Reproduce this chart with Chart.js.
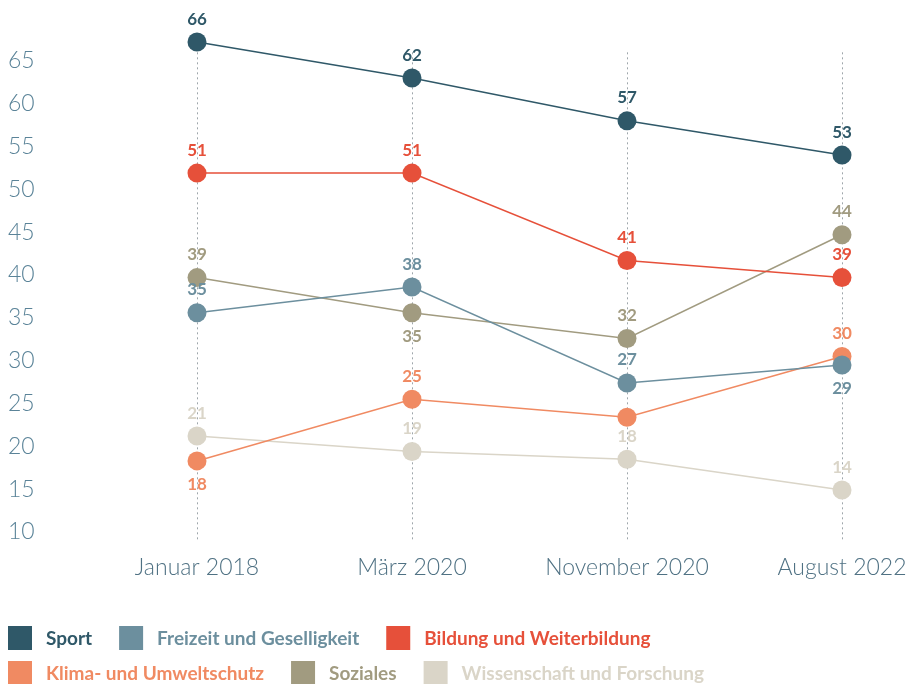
<!DOCTYPE html>
<html>
<head>
<meta charset="utf-8">
<script src="https://cdn.jsdelivr.net/npm/chart.js@4.4.1/dist/chart.umd.min.js"></script>
<style>
html,body{margin:0;padding:0;background:#ffffff;}
#wrap{width:910px;height:684px;position:relative;}
</style>
</head>
<body>
<div id="wrap"><canvas id="c" width="910" height="684"></canvas></div>
<script>
// ---- data ----
const categories = ['Januar 2018', 'März 2020', 'November 2020', 'August 2022'];
const seriesNames = ['Sport', 'Freizeit und Geselligkeit', 'Bildung und Weiterbildung', 'Klima- und Umweltschutz', 'Soziales', 'Wissenschaft und Forschung'];

// plotted positions
const sport        = [67.2, 63.0, 58.0, 54.0];
const freizeit     = [35.6, 38.6, 27.4, 29.5];
const bildung      = [51.9, 51.9, 41.7, 39.7];
const klima        = [18.3, 25.5, 23.4, 30.5];
const soziales     = [39.7, 35.6, 32.6, 44.7];
const wissenschaft = [21.2, 19.4, 18.5, 14.9];

// printed value labels
const sportLabels        = ['66', '62', '57', '53'];
const freizeitLabels     = ['35', '38', '27', '29'];
const bildungLabels      = ['51', '51', '41', '39'];
const klimaLabels        = ['18', '25', null, '30'];
const sozialesLabels     = ['39', '35', '32', '44'];
const wissenschaftLabels = ['21', '19', '18', '14'];

const yTicks = [10, 15, 20, 25, 30, 35, 40, 45, 50, 55, 60, 65];
const guideTop = 66; // vertical dotted guides start here

// ---- styling ----
const colors = ['#2f5868', '#6c8f9e', '#e6503a', '#f08a62', '#a19b80', '#dad5c8'];
const FONT = 'Lato, "Open Sans", sans-serif';

const seriesValues = [sport, freizeit, bildung, klima, soziales, wissenschaft];
const seriesLabels = [sportLabels, freizeitLabels, bildungLabels, klimaLabels, sozialesLabels, wissenschaftLabels];

// label placement (below point) – presentation only
const belowKeys = new Set(['1:3', '3:0', '4:1']);

const guidePlugin = {
  id: 'guides',
  beforeDatasetsDraw(chart) {
    const ctx = chart.ctx, xs = chart.scales.x, ys = chart.scales.y;
    const top = ys.getPixelForValue(guideTop);
    const bottom = chart.chartArea.bottom + 8;
    ctx.save();
    ctx.strokeStyle = '#9ea6ab';
    ctx.lineWidth = 1;
    ctx.setLineDash([2, 3]);
    categories.forEach((c, i) => {
      const x = Math.round(xs.getPixelForValue(i)) + 0.5;
      ctx.beginPath();
      ctx.moveTo(x, top);
      ctx.lineTo(x, bottom);
      ctx.stroke();
    });
    ctx.restore();
  }
};

const valueLabelPlugin = {
  id: 'valueLabels',
  afterDatasetsDraw(chart) {
    const ctx = chart.ctx;
    ctx.save();
    ctx.font = 'bold 17px ' + FONT;
    ctx.textAlign = 'center';
    ctx.textBaseline = 'middle';
    chart.data.datasets.forEach((ds, di) => {
      const meta = chart.getDatasetMeta(di);
      meta.data.forEach((pt, i) => {
        const txt = ds.valueLabels[i];
        if (txt == null) return;
        const below = belowKeys.has(di + ':' + i);
        ctx.fillStyle = ds.borderColor;
        ctx.fillText(txt, pt.x, pt.y + (below ? 24 : -23));
      });
    });
    ctx.restore();
  }
};

const legendPlugin = {
  id: 'customLegend',
  afterDraw(chart) {
    const ctx = chart.ctx;
    ctx.save();
    ctx.font = 'bold 19px ' + FONT;
    ctx.textBaseline = 'middle';
    ctx.textAlign = 'left';
    const box = 24, gapText = 14, gapItem = 27, startX = 8, maxX = chart.width;
    let x = startX, y = 638;
    chart.data.datasets.forEach((ds) => {
      const w = box + gapText + ctx.measureText(ds.label).width;
      if (x + w > maxX && x > startX) { x = startX; y += 35; }
      ctx.fillStyle = ds.borderColor;
      ctx.fillRect(x, y - box / 2, box, box);
      ctx.fillText(ds.label, x + box + gapText, y + 1);
      x += w + gapItem;
    });
    ctx.restore();
  }
};

const datasets = seriesNames.map((name, k) => ({
  label: name,
  data: seriesValues[k],
  valueLabels: seriesLabels[k],
  borderColor: colors[k],
  backgroundColor: colors[k],
  pointBackgroundColor: colors[k],
  borderWidth: 1.5,
  pointRadius: 9.5,
  pointHoverRadius: 9.5,
  pointBorderWidth: 0,
  tension: 0,
  clip: false
}));

new Chart(document.getElementById('c'), {
  type: 'line',
  data: { labels: categories, datasets },
  options: {
    responsive: false,
    animation: false,
    events: [],
    layout: { padding: { top: 6.4, left: 8, right: 68, bottom: 0 } },
    plugins: { legend: { display: false }, tooltip: { enabled: false }, title: { display: false } },
    scales: {
      x: {
        type: 'category',
        offset: false,
        afterFit(s) { s.height = 152; s.paddingLeft = 0; s.paddingRight = 0; },
        grid: { display: false, drawTicks: false },
        border: { display: false },
        ticks: {
          font: { family: FONT, size: 23, weight: '300' },
          color: '#4f7183',
          padding: 22,
          maxRotation: 0,
          autoSkip: false
        }
      },
      y: {
        min: 10,
        max: 71,
        afterFit(s) { s.width = 189; s.paddingTop = 0; s.paddingBottom = 0; },
        afterBuildTicks(s) { s.ticks = yTicks.map(v => ({ value: v })); },
        grid: { display: false, drawTicks: false },
        border: { display: false },
        ticks: {
          font: { family: FONT, size: 23, weight: '300' },
          color: '#5a8398',
          crossAlign: 'far',
          padding: 0
        }
      }
    }
  },
  plugins: [guidePlugin, valueLabelPlugin, legendPlugin]
});
</script>
</body>
</html>
